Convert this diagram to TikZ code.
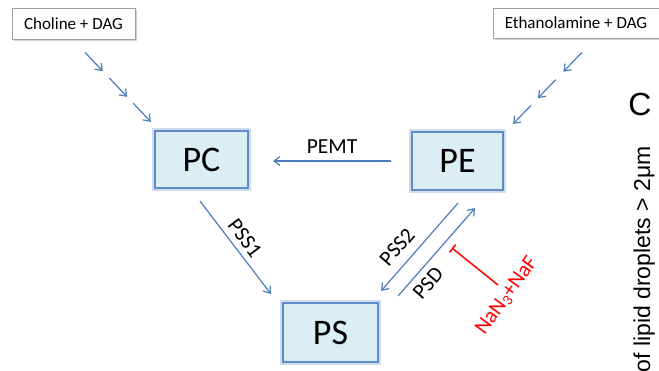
\documentclass[tikz,border=0pt]{standalone}
\usepackage{fontspec}
\setmainfont{Carlito}
\newfontfamily\arialf{Liberation Sans}
\usetikzlibrary{arrows.meta,shadows,calc}
\definecolor{boxfill}{RGB}{219,238,244}
\definecolor{boxline}{RGB}{96,140,196}
\definecolor{arrowblue}{RGB}{74,126,187}
\definecolor{topline}{RGB}{160,160,160}
\tikzset{
  srcbox/.style={draw=topline, line width=0.8pt, fill=white, inner sep=0pt,
    drop shadow={shadow xshift=1.5pt, shadow yshift=-1.5pt, opacity=0.35},
    font=\fontsize{17}{20}\selectfont},
  lipbox/.style={fill=boxfill, draw=boxline, line width=2.2pt, inner sep=0pt,
    preaction={draw=boxline, line width=6pt, draw opacity=0.3},
    font=\fontsize{36}{40}\selectfont},
  flow/.style={draw=arrowblue, line width=1.2pt, -{Straight Barb[length=6pt,width=9pt]}},
  enz/.style={font=\fontsize{21.5}{24}\selectfont, inner sep=0pt},
  inhib/.style={draw=red, line width=1.5pt, -{Bar[width=10pt]}}
}
\begin{document}
\begin{tikzpicture}[x=1pt,y=-1pt]
\useasboundingbox (0,0) rectangle (659,370);
% source boxes
\node[srcbox, minimum width=123pt, minimum height=31pt] (cho) at (73.5,23.5) {Choline + DAG};
\node[srcbox, minimum width=166pt, minimum height=30pt] (eth) at (576,23) {Ethanolamine + DAG};
% lipid boxes
\node[lipbox, minimum width=93pt, minimum height=57pt] (PC) at (201.5,159.5) {PC};
\node[lipbox, minimum width=91pt, minimum height=58pt] (PE) at (457.5,161) {PE};
\node[lipbox, minimum width=95pt, minimum height=59pt] (PS) at (330.5,332.5) {PS};
% dashed feed arrows (left)
\coordinate (l0) at ($(cho.south)+(11.5,13)$);
\coordinate (l1) at ($(PC.north west)+(-3,-8)$);
\draw[flow] ($(l0)!0!(l1)$) -- ($(l0)!0.27!(l1)$);
\draw[flow] ($(l0)!0.37!(l1)$) -- ($(l0)!0.64!(l1)$);
\draw[flow] ($(l0)!0.73!(l1)$) -- ($(l0)!1!(l1)$);
% dashed feed arrows (right)
\coordinate (r0) at ($(eth.south)+(6,14)$);
\coordinate (r1) at ($(PE.north east)+(9,-7)$);
\draw[flow] ($(r0)!0!(r1)$) -- ($(r0)!0.27!(r1)$);
\draw[flow] ($(r0)!0.38!(r1)$) -- ($(r0)!0.64!(r1)$);
\draw[flow] ($(r0)!0.74!(r1)$) -- ($(r0)!1!(r1)$);
% PEMT
\draw[flow] ($(PE.west)+(-20,0)$) -- ($(PC.east |- PE.west)+(24,0)$);
\node[enz] (pemt) at (332,147) {PEMT};
% PSS1
\draw[flow] ($(PC.south)+(-1.5,12)$) -- ($(PS.north west)+(-11,-8)$);
\node[enz, rotate=-53] (pss1) at (245,238) {PSS1};
% PSS2
\draw[flow] ($(PE.south)+(0.5,12)$) -- ($(PS.north east)+(2,-11)$);
\node[enz, rotate=49] (pss2) at (397,247) {PSS2};
% PSD
\draw[flow] ($(PS.north east)+(19,-6)$) -- ($(PE.south)+(17.5,17)$);
\node[enz, rotate=49] (psd) at (428,283) {PSD};
% inhibitor
\node[enz, text=red, rotate=54] (inh) at (507,296) {NaN\textsubscript{3}+NaF};
\draw[inhib] (498,285) -- (452,248);
% panel C
\node[font=\arialf\fontsize{32}{34}\selectfont, inner sep=0pt] (C) at (640,104) {C};
\node[font=\arialf\fontsize{23}{25}\selectfont, rotate=90, anchor=base east, inner sep=0pt] (ylab) at (650,146) {of lipid droplets > 2μm};
\end{tikzpicture}
\end{document}
